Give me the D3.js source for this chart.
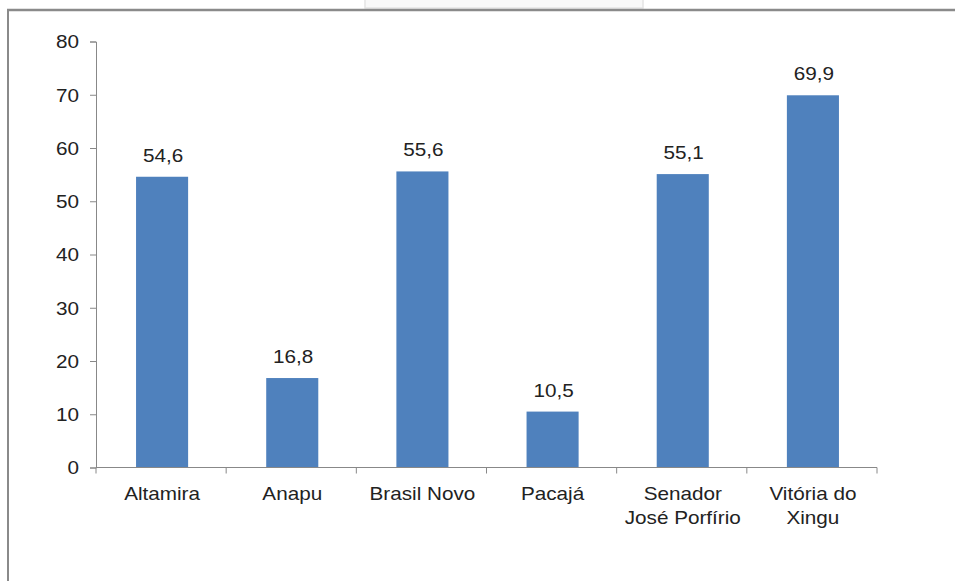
<!DOCTYPE html>
<html>
<head>
<meta charset="utf-8">
<script src="https://cdn.jsdelivr.net/npm/d3@7"></script>
<style>
  html, body { margin: 0; padding: 0; background: #fff; }
  svg { display: block; }
  text { font-family: "Liberation Sans", Arial, sans-serif; fill: #222; }
</style>
</head>
<body>
<svg id="chart" width="955" height="581"></svg>
<script>
// Municipalities and their percentage values
const categories = ["Altamira", "Anapu", "Brasil Novo", "Pacajá", "Senador José Porfírio", "Vitória do Xingu"];
const categoryLines = [["Altamira"], ["Anapu"], ["Brasil Novo"], ["Pacajá"], ["Senador", "José Porfírio"], ["Vitória do", "Xingu"]];
const values = [54.6, 16.8, 55.6, 10.5, 55.1, 69.9];
const valueLabels = ["54,6", "16,8", "55,6", "10,5", "55,1", "69,9"];
const yTicks = [0, 10, 20, 30, 40, 50, 60, 70, 80];

const W = 955, H = 581;
const plot = { left: 96, right: 877, top: 41.5, bottom: 467.5 };
const SX = 1.15; // horizontal text stretch
const FONT = 18;

const svg = d3.select("#chart");

// outer frame (top and left edges) and tab above it
svg.append("rect").attr("x", 365).attr("y", -2).attr("width", 278).attr("height", 10)
  .attr("fill", "#f8f8f8").attr("stroke", "#e4e4e4").attr("stroke-width", 1.5);
svg.append("line").attr("x1", 7).attr("x2", W).attr("y1", 10).attr("y2", 10)
  .attr("stroke", "#8a8a8a").attr("stroke-width", 2.5);
svg.append("line").attr("x1", 8).attr("x2", 8).attr("y1", 9).attr("y2", H)
  .attr("stroke", "#8a8a8a").attr("stroke-width", 2);

const x = d3.scaleBand().domain(categories).range([plot.left, plot.right]).paddingInner(0).paddingOuter(0);
const y = d3.scaleLinear().domain([0, 80]).range([plot.bottom, plot.top]);

// bars
const barW = x.bandwidth() * 0.4;
svg.append("g").selectAll("rect").data(values).join("rect")
  .attr("x", (d, i) => x(categories[i]) + x.bandwidth() / 2 - barW / 2 + 1)
  .attr("y", d => y(d))
  .attr("width", barW)
  .attr("height", d => y(0) - y(d))
  .attr("fill", "#4f81bd");

// y axis
const yAxis = svg.append("g").attr("transform", `translate(${plot.left},0)`)
  .call(d3.axisLeft(y).tickValues(yTicks).tickSize(6).tickPadding(11).tickFormat(d3.format("d")));
yAxis.select(".domain").attr("stroke", "#888");
yAxis.selectAll(".tick line").attr("stroke", "#888");
yAxis.selectAll(".tick text")
  .attr("font-size", FONT).attr("font-family", null).attr("fill", "#222")
  .attr("x", -17 / SX).attr("dy", "0.36em")
  .attr("transform", `scale(${SX},1)`);

// x axis with ticks at band edges
svg.append("line").attr("x1", plot.left).attr("x2", plot.right).attr("y1", plot.bottom).attr("y2", plot.bottom)
  .attr("stroke", "#888");
const edges = categories.map(c => x(c)).concat([plot.right]);
svg.append("g").selectAll("line").data(edges).join("line")
  .attr("x1", d => d).attr("x2", d => d)
  .attr("y1", plot.bottom).attr("y2", plot.bottom + 6)
  .attr("stroke", "#888");

// category labels
const catG = svg.append("g").selectAll("g").data(categoryLines).join("g")
  .attr("transform", (d, i) => `translate(${x(categories[i]) + x.bandwidth() / 2 + 1},0)`);
catG.each(function (lines) {
  const t = d3.select(this).append("text")
    .attr("text-anchor", "middle").attr("font-size", FONT)
    .attr("transform", `scale(${SX},1)`);
  lines.forEach((ln, j) => {
    t.append("tspan").attr("x", 0).attr("y", 500.5 + j * 23.5).text(ln);
  });
});

// value labels above the bars
svg.append("g").selectAll("text").data(values).join("text")
  .attr("transform", (d, i) => `translate(${x(categories[i]) + x.bandwidth() / 2 + 2},${y(d) - 15}) scale(${SX},1)`)
  .attr("text-anchor", "middle").attr("font-size", FONT)
  .text((d, i) => valueLabels[i]);
</script>
</body>
</html>
